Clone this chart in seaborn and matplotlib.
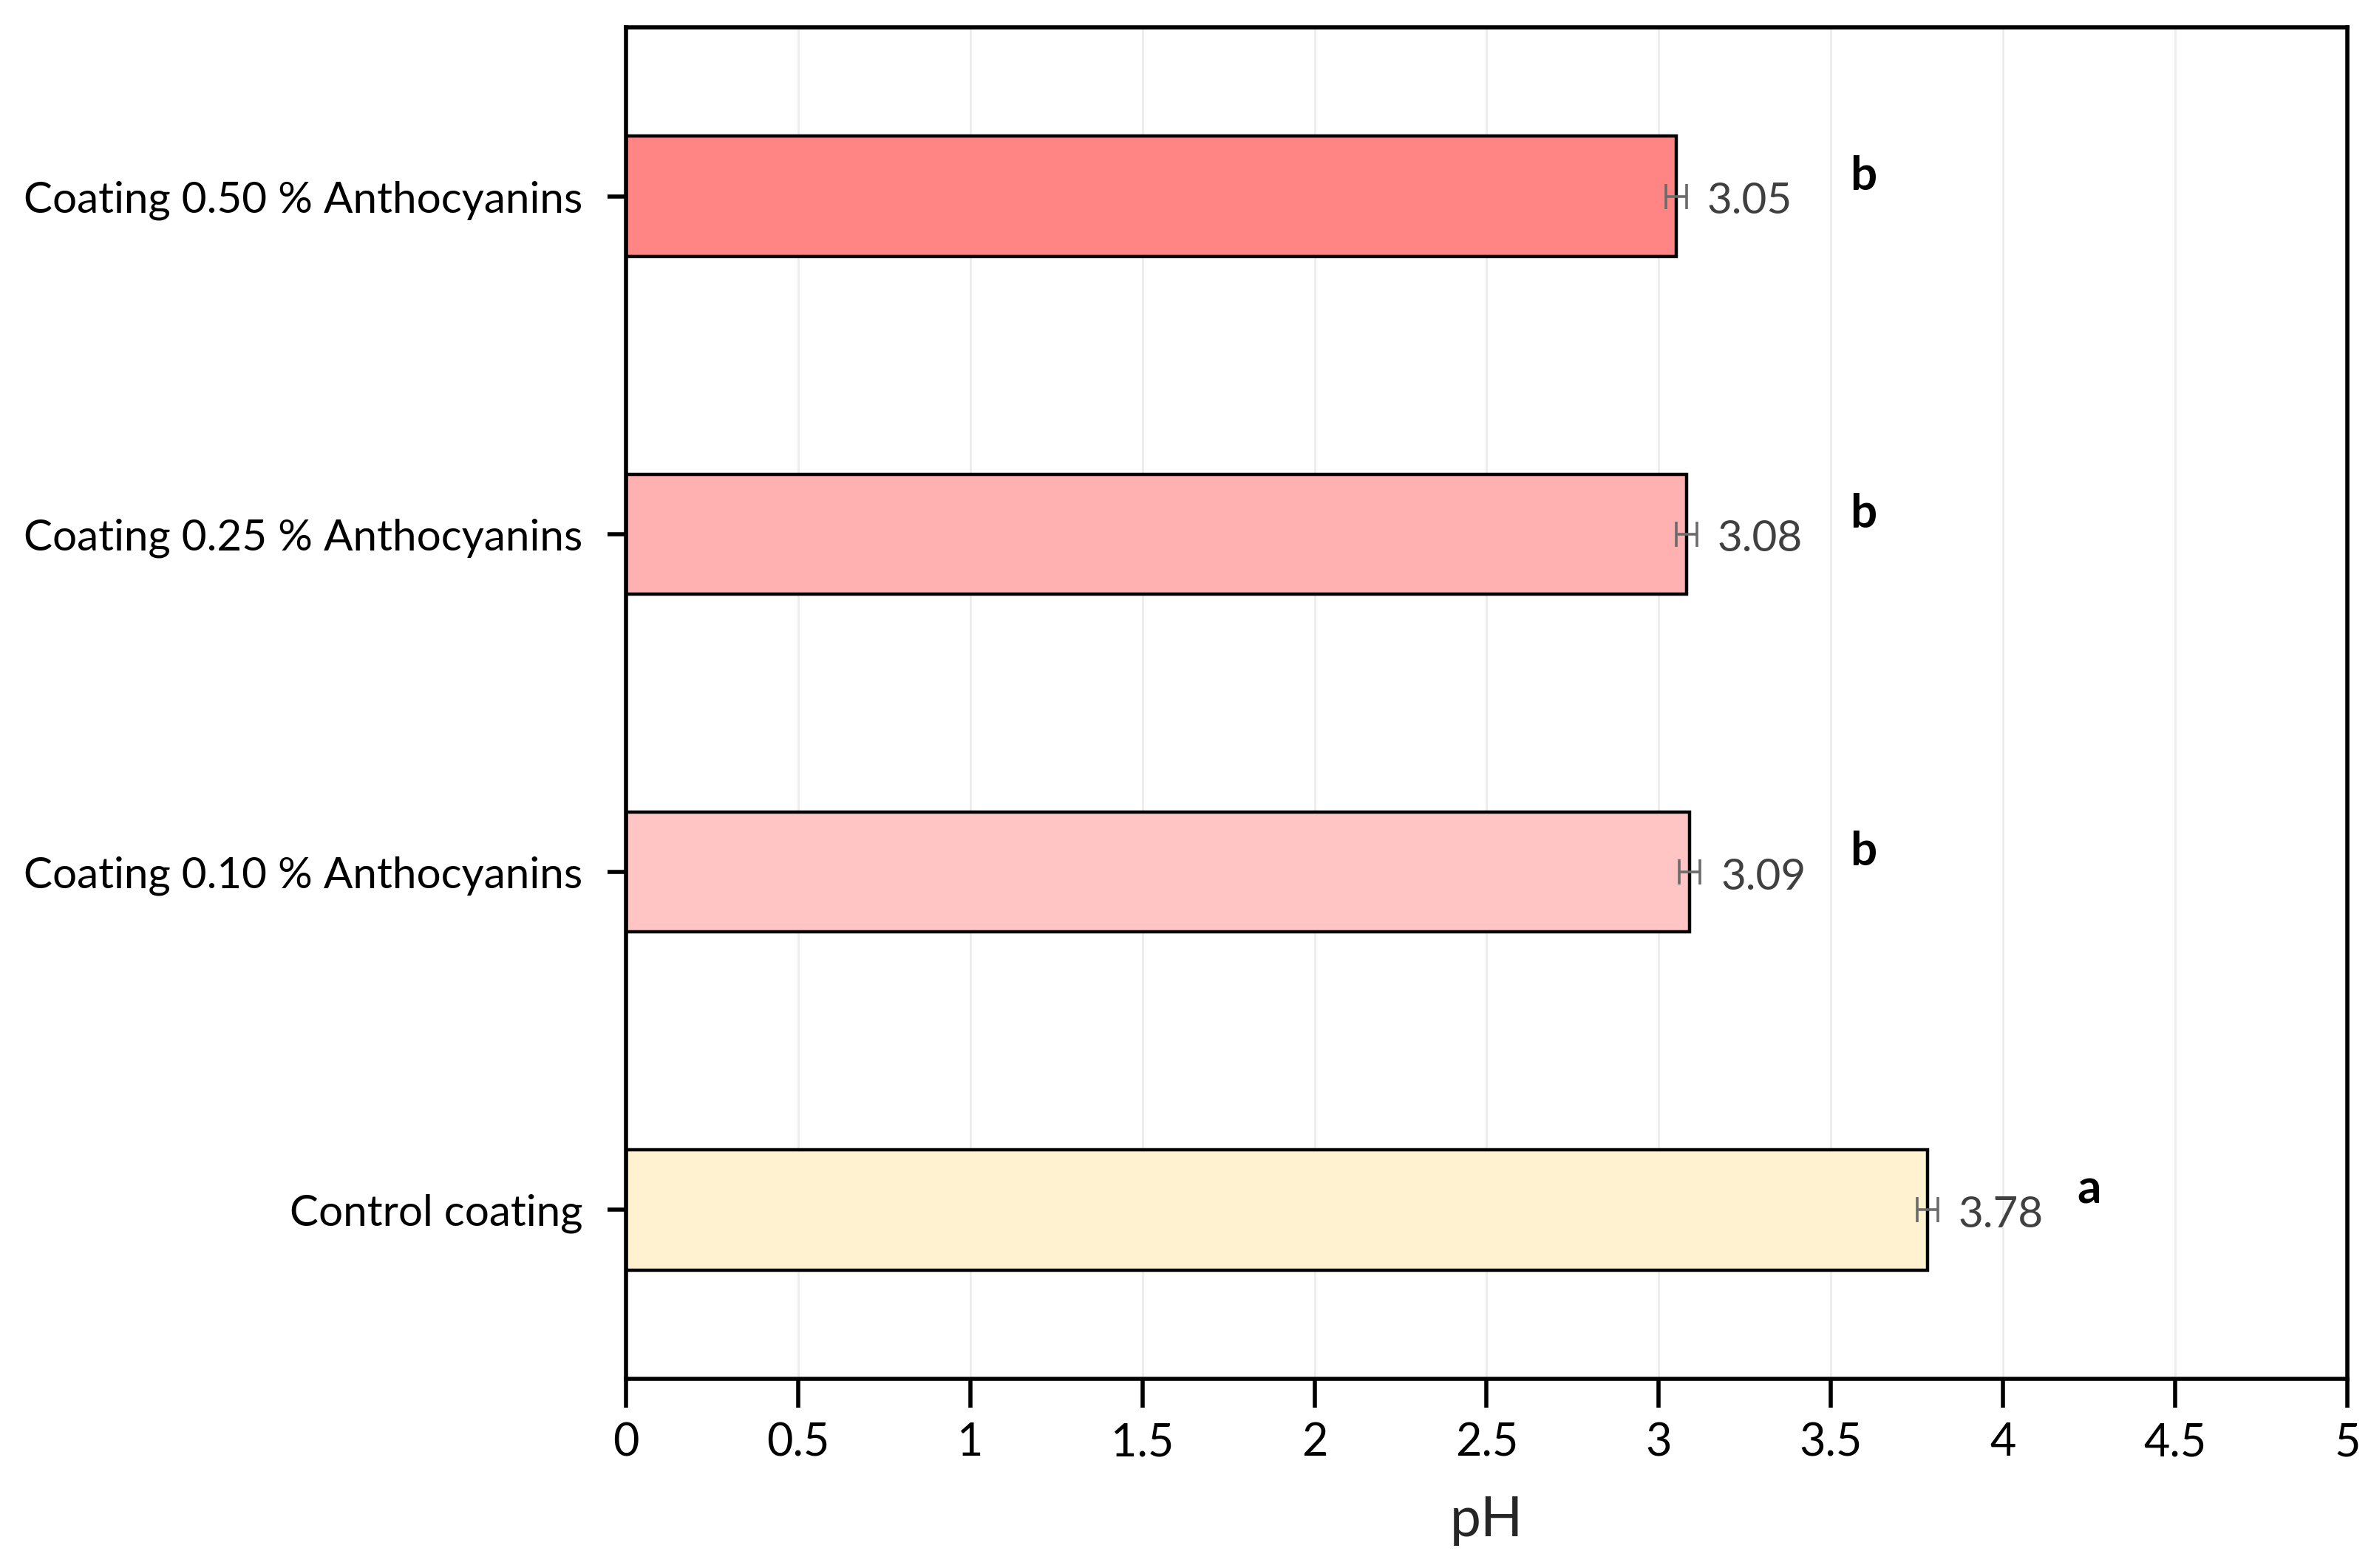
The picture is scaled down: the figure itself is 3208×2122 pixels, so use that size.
import matplotlib
matplotlib.use("Agg")
import matplotlib.pyplot as plt
import seaborn as sns
import pandas as pd

categories = ["Coating 0.50 % Anthocyanins", "Coating 0.25 % Anthocyanins",
              "Coating 0.10 % Anthocyanins", "Control coating"]
ph_values = [3.05, 3.08, 3.09, 3.78]
ph_errors = [0.03, 0.03, 0.03, 0.03]
letters = ["b", "b", "b", "a"]
colors = ["#FF8585", "#FFB0B0", "#FFC5C5", "#FFF2D0"]
x_ticks = [0, 0.5, 1, 1.5, 2, 2.5, 3, 3.5, 4, 4.5, 5]
x_tick_labels = ["0", "0.5", "1", "1.5", "2", "2.5", "3", "3.5", "4", "4.5", "5"]

sns.set_theme(style="white")
plt.rcParams['font.family'] = ['Lato', 'DejaVu Sans']

df = pd.DataFrame({"cat": categories, "pH": ph_values})

fig = plt.figure(figsize=(16.04, 10.61), dpi=200)
ax = fig.add_axes([0.264, 0.1206, 0.726, 0.862])

sns.barplot(data=df, y="cat", x="pH", hue="cat", palette=colors, legend=False,
            orient="h", width=0.355, edgecolor="black", linewidth=1.6,
            saturation=1, errorbar=None, ax=ax, zorder=2)

ypos = list(range(len(categories)))
ax.errorbar(ph_values, ypos, xerr=ph_errors, fmt="none", ecolor="#6b6b6b",
            elinewidth=1.3, capsize=6, capthick=1.3, zorder=3)

for i, (v, e, l) in enumerate(zip(ph_values, ph_errors, letters)):
    ax.text(v + 0.09, i + 0.015, f"{v:.2f}", ha="left", va="center",
            fontsize=21, color="#404040")
    lx = 4.25 if l == "a" else 3.595
    ax.text(lx, i - 0.06, l, ha="center", va="center", fontsize=23,
            fontweight="bold", color="black")

ax.set_xlim(0, 5)
ax.set_ylim(3.5, -0.5)
ax.set_xticks(x_ticks)
ax.set_xticklabels(x_tick_labels)
ax.xaxis.grid(True, color="#ececec", linewidth=1.0, zorder=0)
ax.yaxis.grid(False)
ax.set_axisbelow(True)

for s in ax.spines.values():
    s.set_visible(True)
    s.set_color("black")
    s.set_linewidth(2.0)

ax.tick_params(axis="x", direction="out", length=14, width=2.0, colors="black",
               labelsize=22, pad=7, bottom=True)
ax.tick_params(axis="y", direction="out", length=9, width=2.0, colors="black",
               labelsize=21, pad=12, left=True)
ax.set_ylabel("")
ax.set_xlabel("pH", fontsize=27, labelpad=15)

fig.savefig("out.png", dpi=200, facecolor="white")
